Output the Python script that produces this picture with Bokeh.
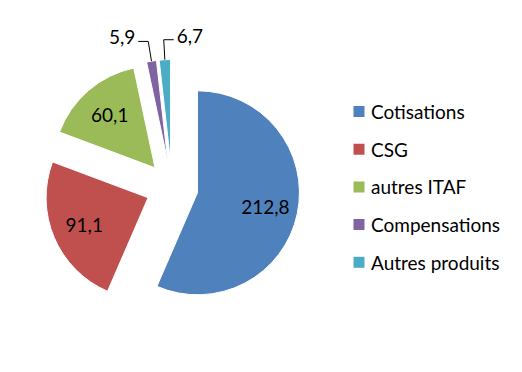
import math
from bokeh.plotting import figure
from bokeh.models import Range1d
from bokeh.embed import file_html
from bokeh.resources import INLINE
from bokeh.core.properties import value

categories = ["Cotisations", "CSG", "autres ITAF", "Compensations", "Autres produits"]
values = [212.8, 91.1, 60.1, 5.9, 6.7]
labels = ["212,8", "91,1", "60,1", "5,9", "6,7"]
colors = ["#4F81BD", "#C0504D", "#9BBB59", "#8064A2", "#4BACC6"]

W, H = 506, 356
p = figure(width=W, height=H, output_backend="svg", toolbar_location=None,
           x_range=Range1d(0, W), y_range=Range1d(372 - H, 372), min_border=0)
p.axis.visible = False
p.grid.visible = False
p.outline_line_color = None

FONT = value("Lato")
CX, CY = 171.5, 185.0   # pie centre (data coords, y up)
R = 102.0
EXPLODE = 26.0

total = sum(values)
cum = 0.0
for i, v in enumerate(values):
    t1 = cum / total * 360.0
    t2 = (cum + v) / total * 360.0
    cum += v
    mid = math.radians((t1 + t2) / 2)
    dx, dy = math.sin(mid), math.cos(mid)
    cx, cy = CX + EXPLODE * dx, CY + EXPLODE * dy
    p.wedge(x=[cx], y=[cy], radius=R,
            start_angle=[math.radians(90 - t2)], end_angle=[math.radians(90 - t1)],
            direction="anticlock", fill_color=colors[i], line_color="white", line_width=1)
    if v / total > 0.05:
        lx, ly = cx + 0.68 * R * dx, cy + 0.68 * R * dy
        p.text(x=[lx], y=[ly], text=[labels[i]], text_font=FONT, text_font_size="19px",
               text_align="center", text_baseline="middle", text_color="black")
    else:
        tx, ty = cx + R * dx, cy + R * dy
        ex, ey = tx + 20 * dx, ty + 20 * dy
        side = -1 if dx < -0.1 else 1
        hx = ex + side * 10
        p.line(x=[tx, ex, hx], y=[ty, ey, ey], line_color="black", line_width=1)
        p.text(x=[hx + side * 3], y=[ey + 4], text=[labels[i]], text_font=FONT,
               text_font_size="19px", text_align="right" if side < 0 else "left",
               text_baseline="middle", text_color="black")

# legend
LX, LY0, LSTEP = 358.5, 261.0, 37.7
for i, name in enumerate(categories):
    y = LY0 - i * LSTEP
    p.rect(x=[LX], y=[y], width=11, height=11, width_units="screen", height_units="screen",
           fill_color=colors[i], line_color=None)
    p.text(x=[LX + 12], y=[y], text=[name], text_font=FONT, text_font_size="19px",
           text_align="left", text_baseline="middle", text_color="black")

open("out.html", "w").write(file_html(p, INLINE))
